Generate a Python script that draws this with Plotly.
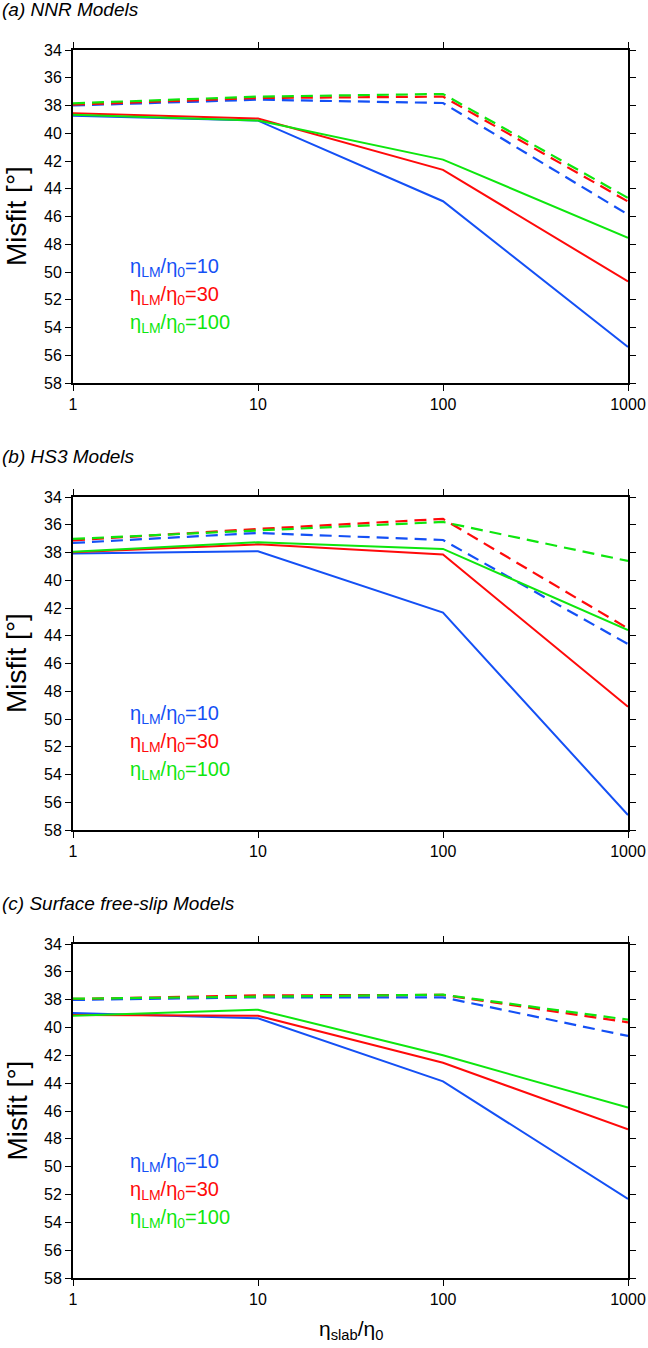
import plotly.graph_objects as go

# viscosity contrast of the slab (x axis)
slab_ratio = [1, 10, 100, 1000]

# lower mantle viscosity ratios (one colour each)
lm_ratios = ["10", "30", "100"]
line_colors = ["#1450f5", "#ff0a0a", "#0ee60e"]

# (a) NNR models: solid and dashed curves, for LM ratio 10, 30, 100
nnr_solid = [
    [38.73, 39.09, 44.90, 55.40],
    [38.56, 38.94, 42.64, 50.68],
    [38.66, 39.09, 41.90, 47.53],
]
nnr_dashed = [
    [38.00, 37.58, 37.82, 45.86],
    [37.94, 37.46, 37.36, 44.92],
    [37.84, 37.36, 37.17, 44.66],
]

# (b) HS3 models
hs3_solid = [
    [38.08, 37.91, 42.33, 56.92],
    [37.98, 37.41, 38.15, 49.12],
    [37.94, 37.26, 37.74, 43.60],
]
hs3_dashed = [
    [37.31, 36.59, 37.10, 44.60],
    [37.12, 36.30, 35.58, 43.48],
    [37.02, 36.42, 35.80, 38.61],
]

# (c) surface free-slip models
fs_solid = [
    [38.96, 39.34, 43.87, 52.32],
    [39.10, 39.15, 42.53, 47.32],
    [39.15, 38.72, 42.00, 45.76],
]
fs_dashed = [
    [38.02, 37.83, 37.83, 40.61],
    [37.95, 37.69, 37.66, 39.63],
    [37.93, 37.78, 37.64, 39.44],
]

panel_titles = ["(a) NNR Models", "(b) HS3 Models", "(c) Surface free-slip Models"]
panels = [(nnr_solid, nnr_dashed), (hs3_solid, hs3_dashed), (fs_solid, fs_dashed)]

y_ticks = list(range(34, 59, 2))
x_ticks = [1, 10, 100, 1000]

W, H = 648, 1348
# pixel positions of each panel frame (top, bottom)
frames = [(50, 383), (497, 830), (944, 1278)]
title_pix = [10, 457, 903]
x_left, x_right = 73, 628

fig = go.Figure()
font = "Liberation Sans, Arial, sans-serif"

for i, (solid, dashed) in enumerate(panels):
    n = "" if i == 0 else str(i + 1)
    for k in range(3):
        fig.add_trace(go.Scatter(x=slab_ratio, y=dashed[k], mode="lines",
                                 line=dict(color=line_colors[k], width=2.2, dash="12px,7px"),
                                 xaxis="x" + n, yaxis="y" + n, showlegend=False))
    for k in range(3):
        fig.add_trace(go.Scatter(x=slab_ratio, y=solid[k], mode="lines",
                                 line=dict(color=line_colors[k], width=2),
                                 xaxis="x" + n, yaxis="y" + n, showlegend=False))

    top, bot = frames[i]
    axis_common = dict(showline=True, linecolor="black", linewidth=2, mirror="ticks",
                       ticks="outside", ticklen=6, tickwidth=1, tickcolor="black",
                       showgrid=False, zeroline=False, automargin=False,
                       tickfont=dict(family=font, size=16, color="black"))
    fig.layout["xaxis" + n] = dict(axis_common, type="log", range=[0, 3],
                                   tickvals=x_ticks, ticktext=[str(v) for v in x_ticks],
                                   domain=[x_left / W, x_right / W], anchor="y" + n)
    fig.layout["yaxis" + n] = dict(axis_common, range=[58, 34], tickvals=y_ticks,
                                   domain=[1 - bot / H, 1 - top / H], anchor="x" + n)

    # panel title
    fig.add_annotation(text="<i>" + panel_titles[i] + "</i>", xref="paper", yref="paper",
                       x=0, y=1 - title_pix[i] / H, xanchor="left", yanchor="middle",
                       showarrow=False, font=dict(family=font, size=19, color="black"))
    # y axis title
    fig.add_annotation(text="Misfit [°]", xref="paper", yref="paper",
                       x=0, y=1 - (top + bot) / 2 / H, textangle=-90,
                       xanchor="left", yanchor="middle", showarrow=False, borderpad=0,
                       font=dict(family=font, size=28, color="black"))
    # colour key
    for k in range(3):
        fig.add_annotation(text="η<sub>LM</sub>/η<sub>0</sub>=" + lm_ratios[k],
                           xref="x" + n, yref="y" + n, x=0.295, y=49.7 + 2.0 * k,
                           xanchor="left", yanchor="middle", showarrow=False,
                           font=dict(family=font, size=20, color=line_colors[k]))

fig.add_annotation(text="η<sub>slab</sub>/η<sub>0</sub>", xref="paper", yref="paper",
                   x=(x_left + x_right) / 2 / W, y=1 - 1330 / H, xanchor="center",
                   yanchor="middle", showarrow=False,
                   font=dict(family=font, size=21, color="black"))

fig.update_layout(width=W, height=H, margin=dict(l=0, r=0, t=0, b=0),
                  paper_bgcolor="white", plot_bgcolor="white")

fig.write_html("out.html", config={"displayModeBar": False},
               post_script="document.body.style.margin='0';")
